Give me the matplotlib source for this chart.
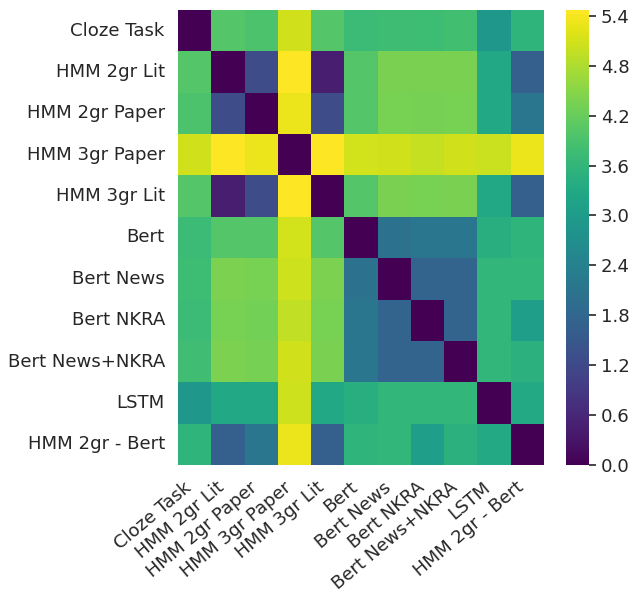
import numpy as np
import matplotlib
matplotlib.use("Agg")
import matplotlib.pyplot as plt
import seaborn as sns

labels = ["Cloze Task", "HMM 2gr Lit", "HMM 2gr Paper", "HMM 3gr Paper",
          "HMM 3gr Lit", "Bert", "Bert News", "Bert NKRA", "Bert News+NKRA",
          "LSTM", "HMM 2gr - Bert"]

cloze_task   = [0.00, 4.00, 3.93, 5.08, 4.00, 3.72, 3.78, 3.74, 3.82, 2.90, 3.55]
hmm2_lit     = [4.00, 0.00, 1.26, 5.45, 0.45, 4.00, 4.38, 4.38, 4.38, 3.28, 1.64]
hmm2_paper   = [3.93, 1.26, 0.00, 5.30, 1.26, 4.00, 4.35, 4.32, 4.35, 3.28, 2.15]
hmm3_paper   = [5.08, 5.45, 5.30, 0.00, 5.45, 5.10, 5.08, 4.98, 5.07, 5.03, 5.30]
hmm3_lit     = [4.00, 0.45, 1.26, 5.45, 0.00, 4.00, 4.38, 4.35, 4.38, 3.28, 1.64]
bert         = [3.72, 4.00, 4.00, 5.10, 4.00, 0.00, 2.05, 2.15, 2.15, 3.45, 3.55]
bert_news    = [3.75, 4.40, 4.35, 5.05, 4.40, 2.05, 0.00, 1.75, 1.75, 3.60, 3.60]
bert_nkra    = [3.72, 4.35, 4.30, 4.95, 4.35, 2.15, 1.75, 0.00, 1.75, 3.60, 3.05]
bert_news_nk = [3.80, 4.40, 4.33, 5.07, 4.37, 2.15, 1.75, 1.75, 0.00, 3.60, 3.50]
lstm         = [2.90, 3.28, 3.28, 5.05, 3.28, 3.45, 3.60, 3.60, 3.60, 0.00, 3.30]
hmm2_bert    = [3.55, 1.64, 2.15, 5.30, 1.64, 3.55, 3.60, 3.05, 3.50, 3.30, 0.00]

cbar_ticks = [0.0, 0.6, 1.2, 1.8, 2.4, 3.0, 3.6, 4.2, 4.8, 5.4]

matrix = np.array([cloze_task, hmm2_lit, hmm2_paper, hmm3_paper, hmm3_lit,
                   bert, bert_news, bert_nkra, bert_news_nk, lstm, hmm2_bert])

sns.set_theme(style="white", font_scale=1.19)

W, H = 635, 596
fig = plt.figure(figsize=(W / 100, H / 100), dpi=100)
ax = fig.add_axes([178 / W, (H - 465) / H, 366 / W, 455 / H])
cax = fig.add_axes([566 / W, (H - 465) / H, 23 / W, 455 / H])

sns.heatmap(matrix, ax=ax, cbar_ax=cax, cmap="viridis", vmin=0, vmax=5.47,
            xticklabels=labels, yticklabels=labels,
            cbar_kws={"ticks": cbar_ticks, "format": "%.1f"})
ax.set_xticklabels(labels, rotation=40, ha="right")
ax.set_yticklabels(labels, rotation=0)
cax.tick_params(length=5, width=1.2, color="#262626")

fig.savefig("out.png", dpi=100)
